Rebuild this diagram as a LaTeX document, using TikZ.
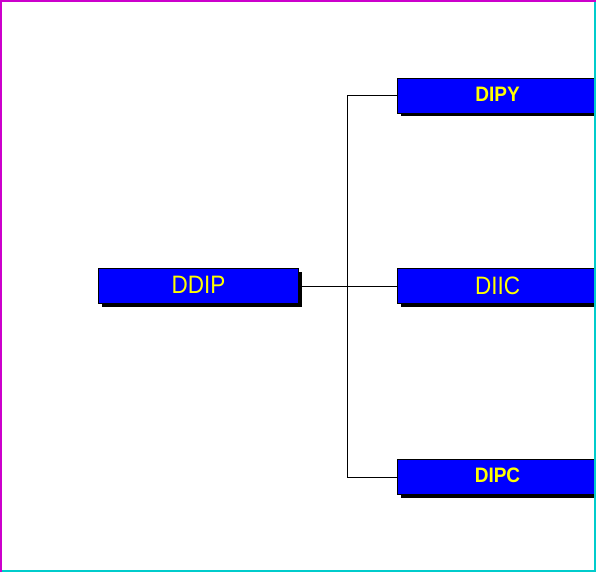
\documentclass[tikz,border=0pt]{standalone}
\usepackage{fontspec}
\usepackage{graphicx}
\setmainfont{Liberation Sans}
\usetikzlibrary{shadows}
\definecolor{bordmag}{RGB}{204,0,204}
\definecolor{bordcyan}{RGB}{0,204,204}
\newcommand{\bigtxt}[1]{\raisebox{1.5pt}{\scalebox{1}[1.12]{\fontsize{22.5}{22.5}\selectfont #1}}}
\newcommand{\smalltxt}[1]{\raisebox{3pt}{\scalebox{1}[1.1]{\fontsize{19}{19}\selectfont\bfseries #1}}}
\begin{document}
\begin{tikzpicture}[x=1pt,y=-1pt,
  boxstyle/.style={draw=black, line width=1pt, fill={rgb,255:red,0;green,0;blue,255},
    minimum width=200pt, minimum height=35pt, inner sep=0pt, anchor=north west,
    text={rgb,255:red,255;green,255;blue,0},
    drop shadow={shadow xshift=3pt, shadow yshift=-3pt, fill=black, opacity=1}},
  conn/.style={draw=black, line width=1pt}]
\useasboundingbox (0,0) rectangle (596,572);
\fill[white] (0,0) rectangle (596,572);
\node[boxstyle] (ddip) at (98,268) {\bigtxt{DDIP}};
\node[boxstyle] (diic) at (397,268) {\bigtxt{DIIC}};
\node[boxstyle] (dipy) at (397,78) {\smalltxt{DIPY}};
\node[boxstyle] (dipc) at (397,459) {\smalltxt{DIPC}};
\coordinate (j) at (347,286);
\draw[conn] (ddip.east) -- (diic.west);
\draw[conn] (j |- dipy.west) -- (dipy.west);
\draw[conn] (j |- dipc.west) -- (dipc.west);
\draw[conn] (j |- dipy.west) -- (j |- dipc.west);
\fill[bordmag] (0,0) rectangle (596,2);
\fill[bordmag] (0,0) rectangle (2,572);
\fill[bordcyan] (594,2) rectangle (596,572);
\fill[bordcyan] (2,570) rectangle (596,572);
\end{tikzpicture}
\end{document}
